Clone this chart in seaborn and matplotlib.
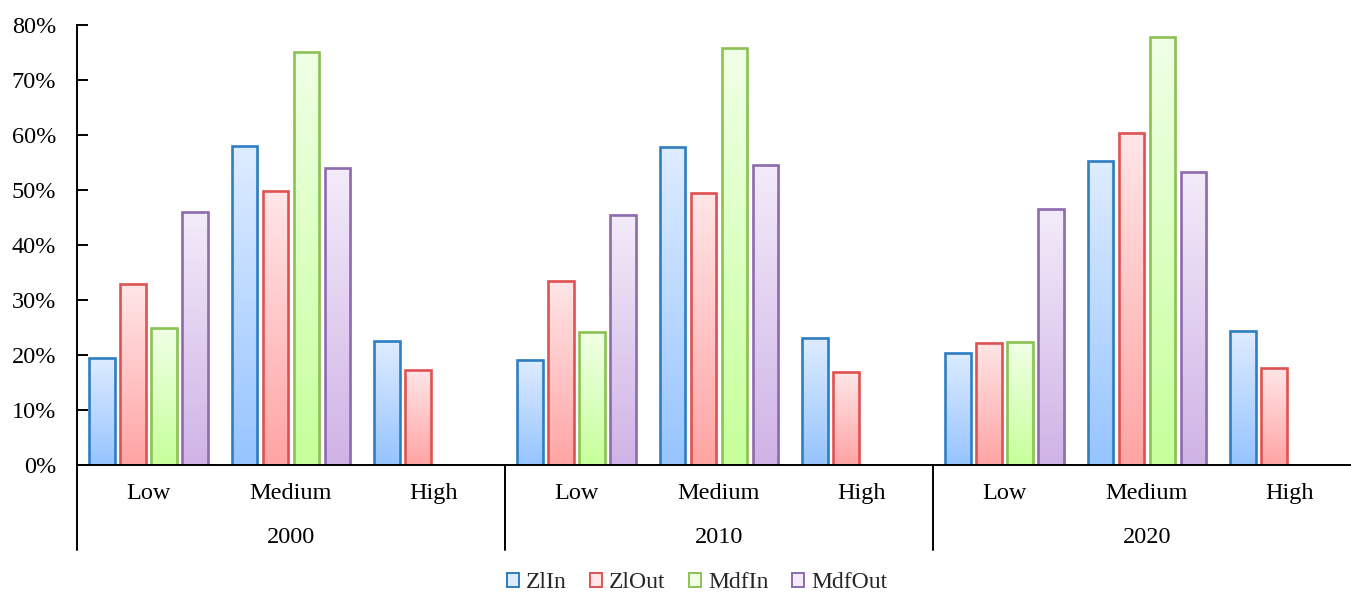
import numpy as np
import pandas as pd
import matplotlib
matplotlib.use("Agg")
import matplotlib.pyplot as plt
import matplotlib.transforms as mtransforms
import seaborn as sns
from matplotlib.colors import LinearSegmentedColormap
from matplotlib.patches import Rectangle

# ---- data -------------------------------------------------------------
years = ["2000", "2010", "2020"]
levels = ["Low", "Medium", "High"]
series = ["ZlIn", "ZlOut", "MdfIn", "MdfOut"]

zl_in = [19.5, 58.0, 22.5, 19.1, 57.8, 23.1, 20.4, 55.3, 24.4]
zl_out = [32.9, 49.8, 17.3, 33.5, 49.5, 16.9, 22.2, 60.4, 17.6]
mdf_in = [24.9, 75.1, 0.0, 24.2, 75.8, 0.0, 22.4, 77.8, 0.0]
mdf_out = [46.0, 54.0, 0.0, 45.5, 54.5, 0.0, 46.5, 53.3, 0.0]

edge_colors = ["#2E7EC1", "#E05252", "#8CC153", "#8E6AAE"]
top_colors = ["#DEECFF", "#FFE6E8", "#F0FFE6", "#F3EBF9"]
bottom_colors = ["#96C4FF", "#FFA4A4", "#C6FF9A", "#CFB3E6"]

categories = [f"{y}-{lv}" for y in years for lv in levels]
values = [zl_in, zl_out, mdf_in, mdf_out]
df = pd.DataFrame(
    [(c, s, v) for s, vals in zip(series, values) for c, v in zip(categories, vals)],
    columns=["category", "series", "value"],
)

# ---- style ------------------------------------------------------------
sns.set_theme(style="white")
plt.rcParams["font.family"] = ["Liberation Serif", "DejaVu Serif"]
FS = 17.5

fig = plt.figure(figsize=(13.51, 5.95), dpi=100)
ax = fig.add_axes([77 / 1351, 130 / 595, 1284 / 1351, 440 / 595])

sns.barplot(
    data=df, x="category", y="value", hue="series",
    order=categories, hue_order=series,
    palette=edge_colors, width=0.87, gap=0.18,
    legend=False, ax=ax, zorder=3,
)

ax.set_xlim(-0.5, len(categories) - 0.5)
ax.set_ylim(0, 80)

# gradient fill for each bar, plus a soft drop shadow
shadow_tf = mtransforms.offset_copy(ax.transData, fig=fig, x=1.5, y=-1.0, units="dots")
for k, container in enumerate(ax.containers):
    cmap = LinearSegmentedColormap.from_list(
        f"grad{k}", [bottom_colors[k], top_colors[k]])
    grad = np.linspace(0, 1, 256).reshape(-1, 1)
    for bar in container:
        x0, w, h = bar.get_x(), bar.get_width(), bar.get_height()
        bar.set_facecolor("none")
        bar.set_edgecolor(edge_colors[k])
        bar.set_linewidth(1.9)
        bar.set_zorder(4)
        if h <= 0:
            continue
        sh = Rectangle((x0, 0), w, h, transform=shadow_tf,
                       facecolor="#999999", alpha=0.25, edgecolor="none", zorder=2)
        ax.add_patch(sh)
        ax.imshow(grad, cmap=cmap, origin="lower", aspect="auto",
                  extent=[x0, x0 + w, 0, h], zorder=3, interpolation="bilinear")

ax.set_xlim(-0.5, len(categories) - 0.5)
ax.set_ylim(0, 80)

# ---- axes styling -----------------------------------------------------
for side in ["top", "right"]:
    ax.spines[side].set_visible(False)
for side in ["left", "bottom"]:
    ax.spines[side].set_color("black")
    ax.spines[side].set_linewidth(1.4)
    ax.spines[side].set_zorder(6)

ax.set_yticks(np.arange(0, 81, 10))
ax.set_yticklabels([f"{v}%" for v in range(0, 81, 10)])
ax.tick_params(axis="y", direction="in", length=8, width=1.4,
               pad=15, labelsize=FS, colors="black", left=True)
ax.set_xticks([])
ax.set_xlabel("")
ax.set_ylabel("")

# two-level category axis
blend = mtransforms.blended_transform_factory(ax.transData, ax.transAxes)
for i, c in enumerate(categories):
    ax.text(i, -0.064, c.split("-")[1], transform=blend, ha="center",
            va="center", fontsize=FS, color="black")
for j, y in enumerate(years):
    ax.text(j * 3 + 1, -0.164, y, transform=blend, ha="center",
            va="center", fontsize=FS, color="black")
for xs in [2.5, 5.5]:
    ax.plot([xs, xs], [0, -0.193], transform=blend, color="black",
            lw=1.4, clip_on=False, zorder=6)
ax.plot([-0.5, -0.5], [0, -0.193], transform=blend, color="black",
        lw=1.4, clip_on=False, zorder=6)

# legend
handles = [Rectangle((0, 0), 1, 1, facecolor=top_colors[k], edgecolor=edge_colors[k],
                     linewidth=1.4) for k in range(len(series))]
fig.legend(handles, series, loc="center", bbox_to_anchor=(697 / 1351, 12 / 595),
           ncol=4, frameon=False, fontsize=17, handlelength=0.5, handleheight=0.5,
           handletextpad=0.3, columnspacing=1.0, borderpad=0.2)

fig.savefig("out.png", dpi=100)
